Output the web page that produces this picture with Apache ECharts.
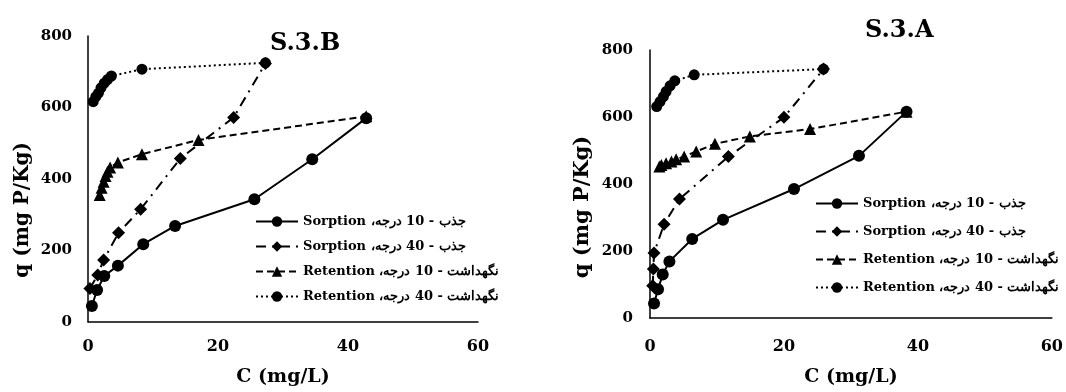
<!DOCTYPE html>
<html>
<head>
<meta charset="utf-8">
<script src="https://cdn.jsdelivr.net/npm/echarts@6/dist/echarts.min.js"></script>
<style>
  html, body { margin: 0; padding: 0; background: #fff; }
  #chart { width: 1066px; height: 392px; }
</style>
</head>
<body>
<div id="chart"></div>
<script>
// S.3.B (left panel)  [C, q]
var bSorption10 = [[0.6,44],[1.4,89],[2.5,128],[4.6,157],[8.5,217],[13.4,268],[25.6,343],[34.5,455],[42.8,570]];
var bSorption40 = [[0.3,93],[1.5,131],[2.4,173],[4.7,249],[8.1,315],[14.2,457],[22.4,572],[27.3,723]];
var bRetention10 = [[1.8,355],[2.1,375],[2.4,392],[2.7,408],[3.0,420],[3.4,432],[4.6,446],[8.3,469],[17,509],[42.8,575]];
var bRetention40 = [[0.8,616],[1.2,630],[1.6,640],[2.0,655],[2.5,668],[3.0,678],[3.6,688],[8.3,707],[27.3,725]];

// S.3.A (right panel)
var aSorption10 = [[0.6,43],[1.2,86],[1.9,130],[2.9,169],[6.3,236],[10.9,293],[21.5,385],[31.2,484],[38.3,616]];
var aSorption40 = [[0.4,96],[0.5,146],[0.6,194],[2.1,280],[4.4,355],[11.7,482],[20,599],[25.9,743]];
var aRetention10 = [[1.4,452],[1.7,457],[2.4,462],[3.2,467],[3.9,474],[5.1,482],[6.9,497],[9.7,520],[14.9,542],[23.9,564],[38.3,616]];
var aRetention40 = [[1.0,631],[1.5,646],[2.0,661],[2.4,676],[3.0,693],[3.7,708],[6.6,726],[25.9,743]];

// legend names (RTL text, embedded)
var seriesNames = [
  '\u202Bجذب - 10 درجه، Sorption\u202C',
  '\u202Bجذب - 40 درجه، Sorption\u202C',
  '\u202Bنگهداشت - 10 درجه، Retention\u202C',
  '\u202Bنگهداشت - 40 درجه، Retention\u202C'
];
var xTicks = [0, 20, 40, 60];
var yTicks = [0, 200, 400, 600, 800];

var font = 'DejaVu Serif';
var styles = [
  { type: 'solid', symbol: 'circle', size: 12, z: 3 },
  { type: [10, 6, 2, 6], symbol: 'diamond', size: 13, z: 4 },
  { type: [7, 4], symbol: 'triangle', size: 12, z: 2 },
  { type: [2, 3], symbol: 'circle', size: 11, z: 1 }
];

function mkSeries(idx, data, gi) {
  var s = styles[idx];
  return {
    name: seriesNames[idx],
    type: 'line',
    xAxisIndex: gi,
    yAxisIndex: gi,
    data: data,
    symbol: s.symbol,
    symbolSize: s.size,
    z: s.z,
    itemStyle: { color: '#000' },
    lineStyle: { color: '#000', width: 2, type: s.type },
    animation: false
  };
}

function xAx(gi, gap, margin) {
  return {
    type: 'value', gridIndex: gi, min: xTicks[0], max: xTicks[xTicks.length - 1], interval: 20,
    name: 'C (mg/L)', nameLocation: 'middle', nameGap: gap,
    nameTextStyle: { fontFamily: font, fontWeight: 'bold', fontSize: 19, color: '#000' },
    axisLine: { lineStyle: { color: '#000', width: 1.5 } },
    axisTick: { show: false },
    splitLine: { show: false },
    axisLabel: { fontFamily: font, fontWeight: 'bold', fontSize: 16, color: '#000', margin: margin }
  };
}
function yAx(gi, gap, margin, size, shift) {
  return {
    type: 'value', gridIndex: gi, min: yTicks[0], max: yTicks[yTicks.length - 1], interval: 200,
    name: 'q (mg P/Kg)', nameLocation: 'middle', nameGap: gap,
    nameTextStyle: { fontFamily: font, fontWeight: 'bold', fontSize: size, color: '#000', padding: [0, shift, 0, 0] },
    axisLine: { show: true, lineStyle: { color: '#000', width: 1.5 } },
    axisTick: { show: false },
    splitLine: { show: false },
    axisLabel: { fontFamily: font, fontWeight: 'bold', fontSize: 15, color: '#000', margin: margin }
  };
}
function legend(left, top, gap) {
  return {
    orient: 'vertical', left: left, top: top, itemGap: gap,
    itemWidth: 42, itemHeight: 13,
    data: seriesNames,
    textStyle: { fontFamily: font, fontWeight: 'bold', fontSize: 13, color: '#000' }
  };
}

var chart = echarts.init(document.getElementById('chart'), null, { renderer: 'canvas' });
chart.setOption({
  backgroundColor: '#fff',
  animation: false,
  title: [
    { text: 'S.3.B', left: 265, top: 27, textStyle: { fontFamily: font, fontWeight: 'bold', fontSize: 24, color: '#000' } },
    { text: 'S.3.A', left: 860, top: 14, textStyle: { fontFamily: font, fontWeight: 'bold', fontSize: 24, color: '#000' } }
  ],
  legend: [legend(250, 210, 12), legend(810, 192, 15)],
  grid: [
    { left: 88, top: 36, width: 390, height: 285.7 },
    { left: 650, top: 50, width: 410, height: 268.3 }
  ],
  xAxis: [xAx(0, 46, 17), xAx(1, 50, 21)],
  yAxis: [yAx(0, 55, 16, 20, 62), yAx(1, 57, 17, 21, 46)],
  series: [
    mkSeries(0, bSorption10, 0), mkSeries(1, bSorption40, 0), mkSeries(2, bRetention10, 0), mkSeries(3, bRetention40, 0),
    mkSeries(0, aSorption10, 1), mkSeries(1, aSorption40, 1), mkSeries(2, aRetention10, 1), mkSeries(3, aRetention40, 1)
  ]
});
</script>
</body>
</html>
